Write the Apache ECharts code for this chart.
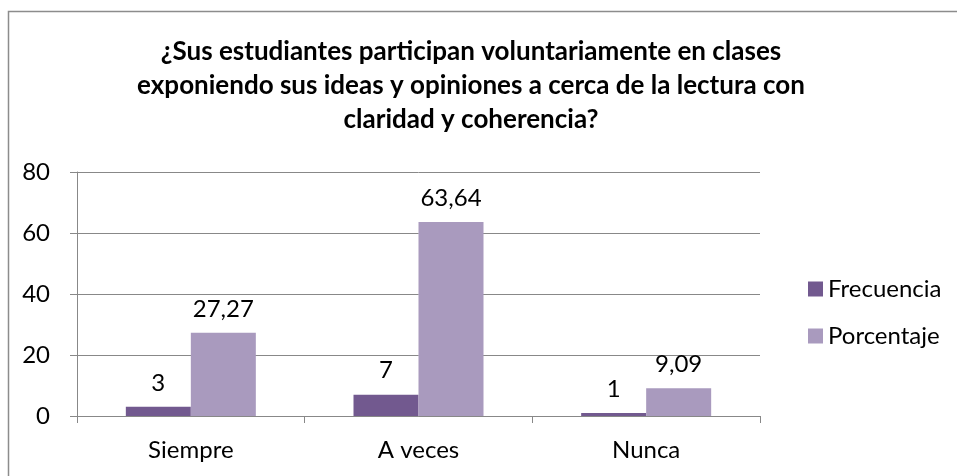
<!DOCTYPE html>
<html>
<head>
<meta charset="utf-8">
<script src="https://cdn.jsdelivr.net/npm/echarts@6/dist/echarts.min.js"></script>
<style>
html,body{margin:0;padding:0;background:#fff;}
#c{width:957px;height:476px;}
</style>
</head>
<body>
<div id="c"></div>
<script>
const titleText = '¿Sus estudiantes participan voluntariamente en clases\nexponiendo sus ideas y opiniones a cerca de la lectura con\nclaridad y coherencia?';
const categories = ['Siempre', 'A veces', 'Nunca'];
const frecuencia = [3, 7, 1];
const porcentaje = [27.27, 63.64, 9.09];
const yTicks = [0, 20, 40, 60, 80];

const FONT = 'Lato, "Open Sans", sans-serif';
const chart = echarts.init(document.getElementById('c'), null, {renderer: 'canvas'});
const fmt = p => String(p.value).replace('.', ',');

chart.setOption({
  animation: false,
  backgroundColor: '#fff',
  graphic: [{
    type: 'rect', shape: {x: 8.5, y: 11.5, width: 1000, height: 500},
    style: {fill: 'none', stroke: '#8c8c8c', lineWidth: 1.5}, silent: true
  }],
  title: {
    text: titleText,
    left: 466, top: 30, textAlign: 'center',
    textStyle: {fontFamily: FONT, fontWeight: 'bold', fontSize: 26, color: '#000', lineHeight: 34}
  },
  legend: {
    orient: 'vertical', left: 803, top: 272,
    itemWidth: 15, itemHeight: 15, itemGap: 23,
    textStyle: {fontFamily: FONT, fontSize: 24, color: '#000'},
    icon: 'rect',
    data: ['Frecuencia', 'Porcentaje']
  },
  grid: {left: 77, right: 197, top: 172, bottom: 60, containLabel: false},
  xAxis: {
    type: 'category', data: categories,
    axisLine: {lineStyle: {color: '#888', width: 1}},
    axisTick: {show: true, length: 7, lineStyle: {color: '#888'}, alignWithLabel: false},
    axisLabel: {fontFamily: FONT, fontSize: 24, color: '#000', margin: 22}
  },
  yAxis: {
    type: 'value', min: 0, max: 80, interval: 20,
    axisLine: {show: true, lineStyle: {color: '#888', width: 1}},
    axisTick: {show: true, length: 7, lineStyle: {color: '#888'}},
    splitLine: {lineStyle: {color: '#888', width: 1}},
    axisLabel: {fontFamily: FONT, fontSize: 24, color: '#000', margin: 27,
      formatter: v => yTicks.includes(v) ? String(v) : ''}
  },
  series: [{
    name: 'Frecuencia', type: 'bar', data: frecuencia,
    barWidth: 65, barGap: '0%',
    itemStyle: {color: '#72598f'},
    label: {show: true, position: 'top', distance: 12, formatter: fmt,
      fontFamily: FONT, fontSize: 24, color: '#000'}
  }, {
    name: 'Porcentaje', type: 'bar', data: porcentaje,
    barWidth: 65,
    itemStyle: {color: '#a99abe'},
    label: {show: true, position: 'top', distance: 12, formatter: fmt,
      fontFamily: FONT, fontSize: 24, color: '#000'}
  }]
});
</script>
</body>
</html>
